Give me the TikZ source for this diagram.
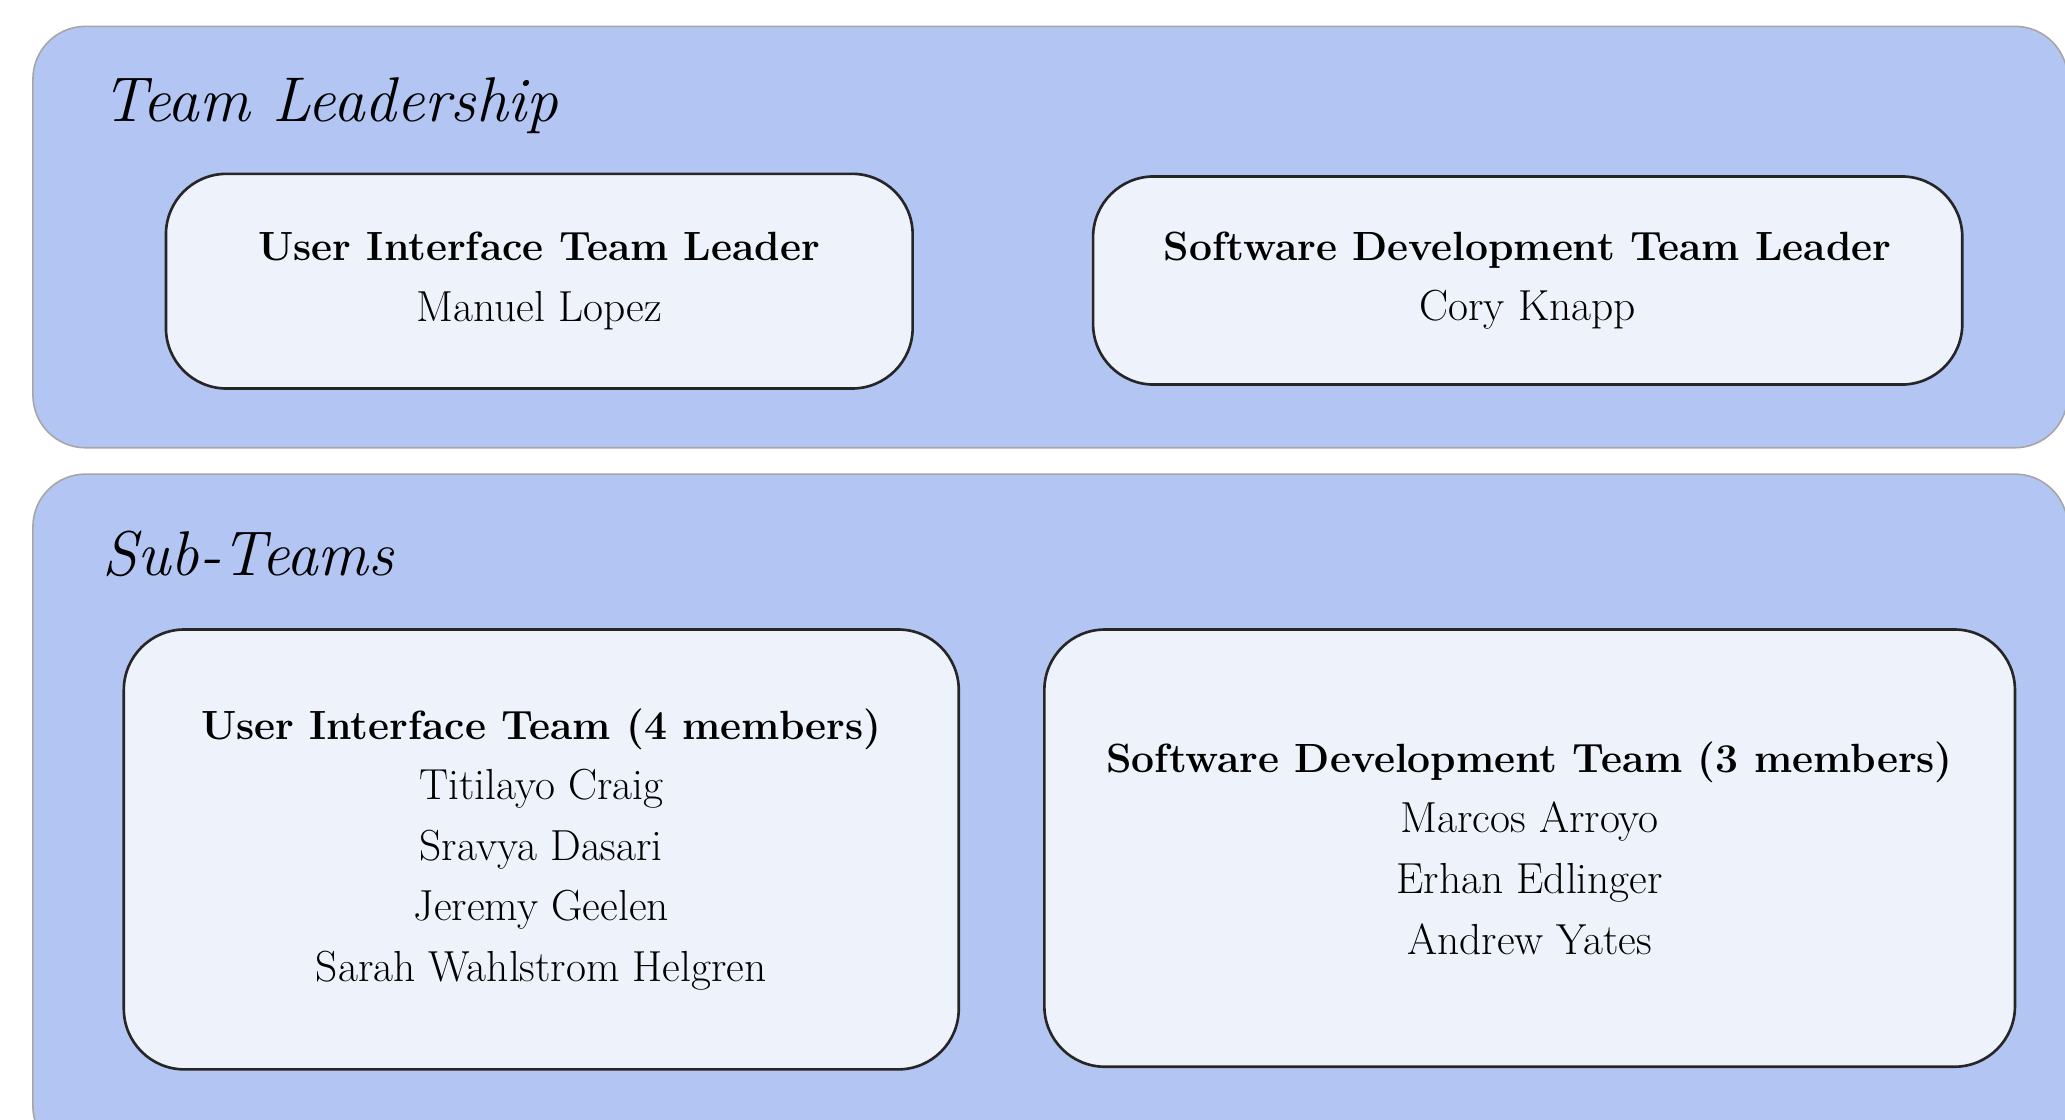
\documentclass[tikz,border=0pt]{standalone}
\usepackage{fontspec}
\definecolor{panelblue}{RGB}{179,197,243}
\definecolor{cardwhite}{RGB}{237,242,251}
\newcommand{\cardfont}{\fontsize{33}{46}\selectfont}
\newcommand{\cardhead}[1]{{\fontsize{31}{46}\selectfont\bfseries #1}}
\newcommand{\headfont}{\fontsize{48}{56}\selectfont\itshape}
\begin{document}
\begin{tikzpicture}[x=1pt,y=-1pt,
		panel/.style={draw=black!35, line width=1.2pt, fill=panelblue, rounded corners=40pt, inner sep=0pt},
		card/.style={draw=black!85, line width=2pt, fill=cardwhite, rounded corners=46pt, align=center, font=\cardfont, inner sep=0pt},
		heading/.style={anchor=base west, font=\headfont, inner sep=0pt}]
	\useasboundingbox (0,0) rectangle (1568,850);
	% the two blue panels
	\node[panel, minimum width=1545pt, minimum height=320pt] (leadpanel) at (797.5,180) {};
	\node[panel, minimum width=1545pt, minimum height=520pt] (subpanel) at (797.5,620) {};
	\node[heading] (leadtitle) at (78,92) {Team Leadership};
	\node[heading] (subtitle) at (78,437) {Sub-Teams};
	% leaders
	\node[card, minimum width=567pt, minimum height=163pt] (uilead) at (409.5,213.5) {\cardhead{User Interface Team Leader}\\Manuel Lopez};
	\node[card, minimum width=660pt, minimum height=158pt] (sdlead) at (1160,213) {\cardhead{Software Development Team Leader}\\Cory Knapp};
	% sub-teams
	\node[card, minimum width=634pt, minimum height=334pt] (uiteam) at (411,645) {\cardhead{User Interface Team (4 members)}\\Titilayo Craig\\Sravya Dasari\\Jeremy Geelen\\Sarah Wahlstrom Helgren};
	\node[card, minimum width=737pt, minimum height=332pt] (sdteam) at (1161.5,644) {\cardhead{Software Development Team (3 members)}\\Marcos Arroyo\\Erhan Edlinger\\Andrew Yates};
\end{tikzpicture}
\end{document}
